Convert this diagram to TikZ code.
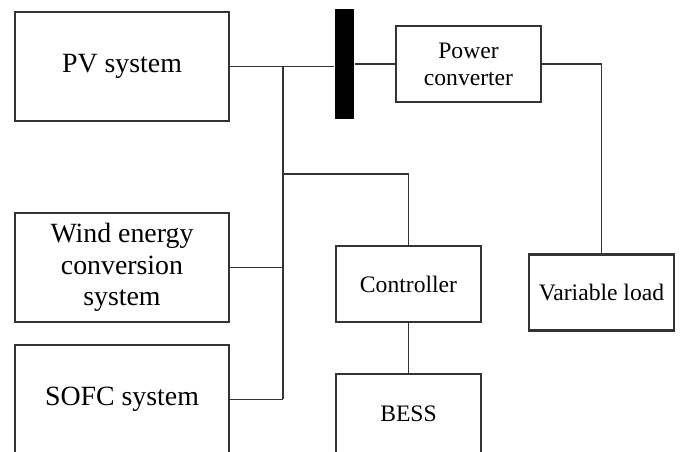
\documentclass[tikz,border=0pt]{standalone}
\usepackage{fontspec}
\setmainfont{Liberation Serif}
\begin{document}
\begin{tikzpicture}[line width=0.6pt,
  caja/.style={draw=black!80,line width=1pt,fill=white,align=center,inner sep=0pt},
  grande/.style={caja,minimum width=3.567cm,minimum height=1.817cm,font=\fontsize{13.2}{15}\selectfont},
  chica/.style={caja,minimum width=2.417cm,minimum height=1.267cm,font=\fontsize{11.2}{12.8}\selectfont},
  linea/.style={draw=black!80,line width=0.75pt}]
  \useasboundingbox (0,0) rectangle (11.333,7.517);
  % fuentes de energia
  \node[grande] (pv) at (2.033,6.408) {PV system};
  \node[grande] (wind) at (2.033,3.058) {Wind energy\\conversion\\system};
  \node[grande] (sofc) at (2.033,0.86) {SOFC system};
  % barra comun y convertidor
  \node[fill=black,minimum width=0.317cm,minimum height=1.833cm,inner sep=0pt] (bus) at (5.742,6.45) {};
  \node[chica] (conv) at (7.808,6.45) {Power\\converter};
  % almacenamiento y carga
  \node[chica] (ctrl) at (6.808,2.783) {Controller};
  \node[chica,minimum height=1.333cm] (bess) at (6.808,0.617) {BESS};
  \node[chica] (load) at (10.025,2.642) {Variable load};
  % conexiones
  \coordinate (nodo) at (4.717,0);
  \coordinate (rama) at (4.717,4.617);
  \draw[linea] (pv.east) -- (pv.east -| bus.west);
  \draw[linea] (pv.east -| nodo) -- (sofc.east -| nodo);
  \draw[linea] (wind.east) -- (wind.east -| nodo);
  \draw[linea] (sofc.east) -- (sofc.east -| nodo);
  \draw[linea] (rama) -| (ctrl.north);
  \draw[linea] (ctrl) -- (bess);
  \draw[linea] (bus.east |- conv.west) -- (conv.west);
  \draw[linea] (conv.east) -| (load.north);
\end{tikzpicture}
\end{document}
